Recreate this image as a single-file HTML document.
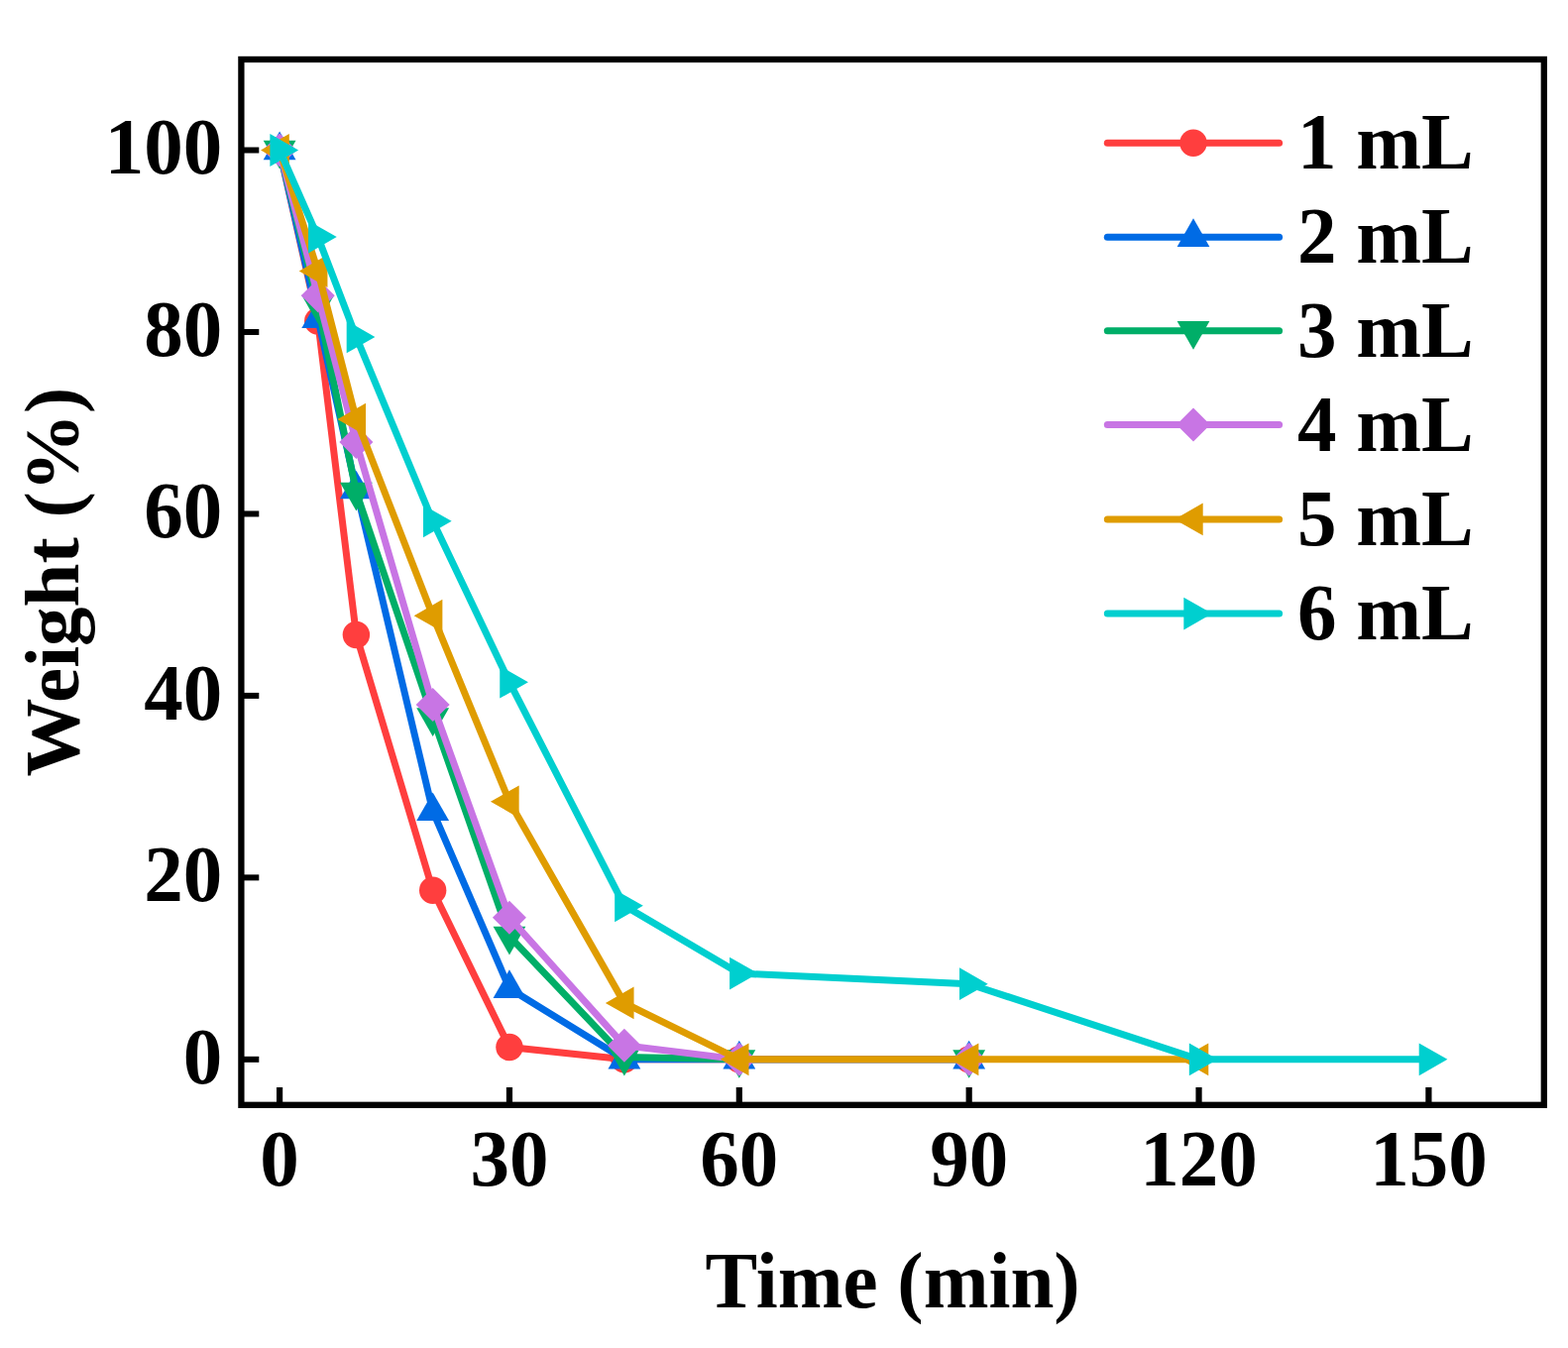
<!DOCTYPE html>
<html><head><meta charset="utf-8"><title>Weight vs Time</title>
<style>html,body{margin:0;padding:0;background:#fff;}svg{display:block;}</style></head><body>
<svg width="1582" height="1360" viewBox="0 0 1582 1360">
<rect width="1582" height="1360" fill="#fff"/>
<polyline points="282.1,151.5 320.74,323.96 359.39,640.45 436.67,898.22 513.96,1056.56 629.89,1068.85 745.82,1068.85 977.68,1068.85" fill="none" stroke="#FF3E3E" stroke-width="7.0" stroke-linejoin="round" stroke-linecap="round"/>
<circle cx="282.1" cy="151.5" r="13.7" fill="#FF3E3E"/>
<circle cx="320.74" cy="323.96" r="13.7" fill="#FF3E3E"/>
<circle cx="359.39" cy="640.45" r="13.7" fill="#FF3E3E"/>
<circle cx="436.67" cy="898.22" r="13.7" fill="#FF3E3E"/>
<circle cx="513.96" cy="1056.56" r="13.7" fill="#FF3E3E"/>
<circle cx="629.89" cy="1068.85" r="13.7" fill="#FF3E3E"/>
<circle cx="745.82" cy="1068.85" r="13.7" fill="#FF3E3E"/>
<circle cx="977.68" cy="1068.85" r="13.7" fill="#FF3E3E"/>
<polyline points="282.1,151.5 320.74,321.21 359.39,493.67 436.67,818.41 513.96,997.3 629.89,1068.85 745.82,1068.85 977.68,1068.85" fill="none" stroke="#006BE5" stroke-width="7.0" stroke-linejoin="round" stroke-linecap="round"/>
<polygon points="282.1,132.5 298.5,161.2 265.7,161.2" fill="#006BE5"/>
<polygon points="320.74,302.21 337.14,330.91 304.34,330.91" fill="#006BE5"/>
<polygon points="359.39,474.67 375.79,503.37 342.99,503.37" fill="#006BE5"/>
<polygon points="436.67,799.41 453.07,828.11 420.27,828.11" fill="#006BE5"/>
<polygon points="513.96,978.3 530.36,1007 497.56,1007" fill="#006BE5"/>
<polygon points="629.89,1049.85 646.29,1078.55 613.49,1078.55" fill="#006BE5"/>
<polygon points="745.82,1049.85 762.22,1078.55 729.42,1078.55" fill="#006BE5"/>
<polygon points="977.68,1049.85 994.08,1078.55 961.28,1078.55" fill="#006BE5"/>
<polyline points="282.1,151.5 320.74,307.45 359.39,496.42 436.67,723.93 513.96,944.55 629.89,1066.56 745.82,1068.85 977.68,1068.85" fill="none" stroke="#00AE68" stroke-width="7.0" stroke-linejoin="round" stroke-linecap="round"/>
<polygon points="282.1,170.5 298.5,141.8 265.7,141.8" fill="#00AE68"/>
<polygon points="320.74,326.45 337.14,297.75 304.34,297.75" fill="#00AE68"/>
<polygon points="359.39,515.42 375.79,486.72 342.99,486.72" fill="#00AE68"/>
<polygon points="436.67,742.93 453.07,714.23 420.27,714.23" fill="#00AE68"/>
<polygon points="513.96,963.55 530.36,934.85 497.56,934.85" fill="#00AE68"/>
<polygon points="629.89,1085.56 646.29,1056.86 613.49,1056.86" fill="#00AE68"/>
<polygon points="745.82,1087.85 762.22,1059.15 729.42,1059.15" fill="#00AE68"/>
<polygon points="977.68,1087.85 994.08,1059.15 961.28,1059.15" fill="#00AE68"/>
<polyline points="282.1,151.5 320.74,298.28 359.39,445.97 436.67,711.08 513.96,925.74 629.89,1054.81 745.82,1068.85 977.68,1068.85" fill="none" stroke="#C875E4" stroke-width="7.0" stroke-linejoin="round" stroke-linecap="round"/>
<polygon points="282.1,134.5 299.1,151.5 282.1,168.5 265.1,151.5" fill="#C875E4"/>
<polygon points="320.74,281.28 337.74,298.28 320.74,315.28 303.74,298.28" fill="#C875E4"/>
<polygon points="359.39,428.97 376.39,445.97 359.39,462.97 342.39,445.97" fill="#C875E4"/>
<polygon points="436.67,694.08 453.67,711.08 436.67,728.08 419.67,711.08" fill="#C875E4"/>
<polygon points="513.96,908.74 530.96,925.74 513.96,942.74 496.96,925.74" fill="#C875E4"/>
<polygon points="629.89,1037.81 646.89,1054.81 629.89,1071.81 612.89,1054.81" fill="#C875E4"/>
<polygon points="745.82,1051.85 762.82,1068.85 745.82,1085.85 728.82,1068.85" fill="#C875E4"/>
<polygon points="977.68,1051.85 994.68,1068.85 977.68,1085.85 960.68,1068.85" fill="#C875E4"/>
<polyline points="282.1,151.5 320.74,273.51 359.39,423.04 436.67,621.18 513.96,808.78 629.89,1011.97 745.82,1068.85 977.68,1068.85 1209.54,1068.85" fill="none" stroke="#DF9C00" stroke-width="7.0" stroke-linejoin="round" stroke-linecap="round"/>
<polygon points="263.1,151.5 291.8,135.1 291.8,167.9" fill="#DF9C00"/>
<polygon points="301.74,273.51 330.44,257.11 330.44,289.91" fill="#DF9C00"/>
<polygon points="340.39,423.04 369.09,406.64 369.09,439.44" fill="#DF9C00"/>
<polygon points="417.67,621.18 446.37,604.78 446.37,637.58" fill="#DF9C00"/>
<polygon points="494.96,808.78 523.66,792.38 523.66,825.18" fill="#DF9C00"/>
<polygon points="610.89,1011.97 639.59,995.57 639.59,1028.37" fill="#DF9C00"/>
<polygon points="726.82,1068.85 755.52,1052.45 755.52,1085.25" fill="#DF9C00"/>
<polygon points="958.68,1068.85 987.38,1052.45 987.38,1085.25" fill="#DF9C00"/>
<polygon points="1190.54,1068.85 1219.24,1052.45 1219.24,1085.25" fill="#DF9C00"/>
<polyline points="282.1,151.5 320.74,239.11 359.39,339.92 436.67,525.78 513.96,688.15 629.89,913.82 745.82,982.07 977.68,992.71 1209.54,1068.85 1441.4,1068.85" fill="none" stroke="#00CFCF" stroke-width="7.0" stroke-linejoin="round" stroke-linecap="round"/>
<polygon points="301.1,151.5 272.4,135.1 272.4,167.9" fill="#00CFCF"/>
<polygon points="339.74,239.11 311.04,222.71 311.04,255.51" fill="#00CFCF"/>
<polygon points="378.39,339.92 349.69,323.52 349.69,356.32" fill="#00CFCF"/>
<polygon points="455.67,525.78 426.97,509.38 426.97,542.18" fill="#00CFCF"/>
<polygon points="532.96,688.15 504.26,671.75 504.26,704.55" fill="#00CFCF"/>
<polygon points="648.89,913.82 620.19,897.42 620.19,930.22" fill="#00CFCF"/>
<polygon points="764.82,982.07 736.12,965.67 736.12,998.47" fill="#00CFCF"/>
<polygon points="996.68,992.71 967.98,976.31 967.98,1009.11" fill="#00CFCF"/>
<polygon points="1228.54,1068.85 1199.84,1052.45 1199.84,1085.25" fill="#00CFCF"/>
<polygon points="1460.4,1068.85 1431.7,1052.45 1431.7,1085.25" fill="#00CFCF"/>
<rect x="243.4" y="59.95" width="1314.4" height="1054.85" fill="none" stroke="#000" stroke-width="6.3" stroke-linejoin="miter"/>
<line x1="243.4" y1="1068.85" x2="261.3" y2="1068.85" stroke="#000" stroke-width="6"/>
<line x1="243.4" y1="885.38" x2="261.3" y2="885.38" stroke="#000" stroke-width="6"/>
<line x1="243.4" y1="701.91" x2="261.3" y2="701.91" stroke="#000" stroke-width="6"/>
<line x1="243.4" y1="518.44" x2="261.3" y2="518.44" stroke="#000" stroke-width="6"/>
<line x1="243.4" y1="334.97" x2="261.3" y2="334.97" stroke="#000" stroke-width="6"/>
<line x1="243.4" y1="151.5" x2="261.3" y2="151.5" stroke="#000" stroke-width="6"/>
<line x1="282.1" y1="1114.8" x2="282.1" y2="1097" stroke="#000" stroke-width="6.2"/>
<line x1="513.96" y1="1114.8" x2="513.96" y2="1097" stroke="#000" stroke-width="6.2"/>
<line x1="745.82" y1="1114.8" x2="745.82" y2="1097" stroke="#000" stroke-width="6.2"/>
<line x1="977.68" y1="1114.8" x2="977.68" y2="1097" stroke="#000" stroke-width="6.2"/>
<line x1="1209.54" y1="1114.8" x2="1209.54" y2="1097" stroke="#000" stroke-width="6.2"/>
<line x1="1441.4" y1="1114.8" x2="1441.4" y2="1097" stroke="#000" stroke-width="6.2"/>
<g font-family="'Liberation Serif', 'Times New Roman', serif" font-weight="bold" font-size="79" fill="#000">
<text transform="translate(224.3,1092.55) scale(1,1.03)" text-anchor="end">0</text>
<text transform="translate(224.3,909.08) scale(1,1.03)" text-anchor="end">20</text>
<text transform="translate(224.3,725.61) scale(1,1.03)" text-anchor="end">40</text>
<text transform="translate(224.3,542.14) scale(1,1.03)" text-anchor="end">60</text>
<text transform="translate(224.3,358.67) scale(1,1.03)" text-anchor="end">80</text>
<text transform="translate(224.3,175.2) scale(1,1.03)" text-anchor="end">100</text>
<text transform="translate(282.1,1195.6) scale(1,1.03)" text-anchor="middle">0</text>
<text transform="translate(513.96,1195.6) scale(1,1.03)" text-anchor="middle">30</text>
<text transform="translate(745.82,1195.6) scale(1,1.03)" text-anchor="middle">60</text>
<text transform="translate(977.68,1195.6) scale(1,1.03)" text-anchor="middle">90</text>
<text transform="translate(1209.54,1195.6) scale(1,1.03)" text-anchor="middle">120</text>
<text transform="translate(1441.4,1195.6) scale(1,1.03)" text-anchor="middle">150</text>
<text transform="translate(900.6,1318.8) scale(1,1.03)" text-anchor="middle">Time (min)</text>
<text transform="translate(78.6,587.2) rotate(-90) scale(1,1.0)" text-anchor="middle">Weight (%)</text>
</g>
<g font-family="'Liberation Serif', 'Times New Roman', serif" font-weight="bold" font-size="79" fill="#000">
<line x1="1117.3" y1="144.2" x2="1290.6" y2="144.2" stroke="#FF3E3E" stroke-width="7.0" stroke-linecap="round"/>
<circle cx="1204" cy="144.2" r="13.7" fill="#FF3E3E"/>
<text transform="translate(1308.9,170.4) scale(1,1.03)">1 mL</text>
<line x1="1117.3" y1="239.2" x2="1290.6" y2="239.2" stroke="#006BE5" stroke-width="7.0" stroke-linecap="round"/>
<polygon points="1204,220.2 1220.4,248.9 1187.6,248.9" fill="#006BE5"/>
<text transform="translate(1308.9,265.24) scale(1,1.03)">2 mL</text>
<line x1="1117.3" y1="333.7" x2="1290.6" y2="333.7" stroke="#00AE68" stroke-width="7.0" stroke-linecap="round"/>
<polygon points="1204,352.7 1220.4,324 1187.6,324" fill="#00AE68"/>
<text transform="translate(1308.9,360.08) scale(1,1.03)">3 mL</text>
<line x1="1117.3" y1="428.6" x2="1290.6" y2="428.6" stroke="#C875E4" stroke-width="7.0" stroke-linecap="round"/>
<polygon points="1204,411.6 1221,428.6 1204,445.6 1187,428.6" fill="#C875E4"/>
<text transform="translate(1308.9,454.92) scale(1,1.03)">4 mL</text>
<line x1="1117.3" y1="523.9" x2="1290.6" y2="523.9" stroke="#DF9C00" stroke-width="7.0" stroke-linecap="round"/>
<polygon points="1185,523.9 1213.7,507.5 1213.7,540.3" fill="#DF9C00"/>
<text transform="translate(1308.9,549.76) scale(1,1.03)">5 mL</text>
<line x1="1117.3" y1="619.1" x2="1290.6" y2="619.1" stroke="#00CFCF" stroke-width="7.0" stroke-linecap="round"/>
<polygon points="1223,619.1 1194.3,602.7 1194.3,635.5" fill="#00CFCF"/>
<text transform="translate(1308.9,644.6) scale(1,1.03)">6 mL</text>
</g>
</svg>
</body></html>
